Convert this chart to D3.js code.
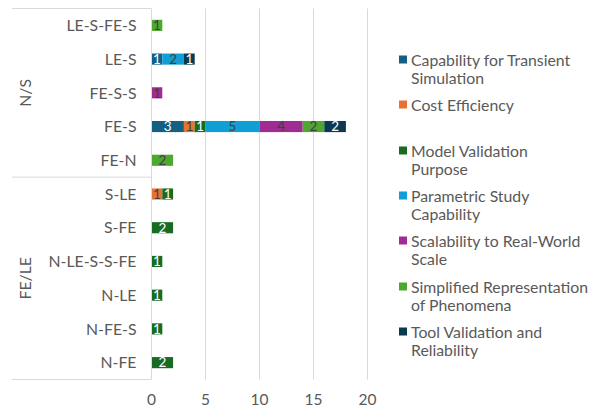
<!DOCTYPE html>
<html lang="en">
<head>
    <meta charset="UTF-8">
    <title>Stacked Bar</title>
    <script src="https://d3js.org/d3.v7.min.js"></script>
    <style>
        body { margin: 0; background: #fff; }
        text { font-family: Lato, "Open Sans", sans-serif; fill: #595959; }
    </style>
</head>
<body>
    <svg width="595" height="409"></svg>
    <script>
        // categories (top to bottom) and their groups
        var categories = ["LE-S-FE-S", "LE-S", "FE-S-S", "FE-S", "FE-N",
                          "S-LE", "S-FE", "N-LE-S-S-FE", "N-LE", "N-FE-S", "N-FE"];
        var groups = [
            {name: "N/S", from: "LE-S-FE-S", to: "FE-N"},
            {name: "FE/LE", from: "S-LE", to: "N-FE"}
        ];
        var seriesNames = ["Capability for Transient Simulation", "Cost Efficiency",
                           "Model Validation Purpose", "Parametric Study Capability",
                           "Scalability to Real-World Scale", "Simplified Representation of Phenomena",
                           "Tool Validation and Reliability"];
        var seriesColors = ["#156082", "#e97132", "#196b24", "#0f9ed5", "#a02b93", "#4ea72e", "#0a3a52"];
        var labelColors = ["#ffffff", "#404040", "#ffffff", "#404040", "#404040", "#404040", "#ffffff"];
        var legendLines = [["Capability for Transient", "Simulation"], ["Cost Efficiency"],
                           ["Model Validation", "Purpose"], ["Parametric Study", "Capability"],
                           ["Scalability to Real-World", "Scale"], ["Simplified Representation", "of Phenomena"],
                           ["Tool Validation and", "Reliability"]];

        // values per series, in category order
        var capability  = [0, 1, 0, 3, 0, 0, 0, 0, 0, 0, 0];
        var cost        = [0, 0, 0, 1, 0, 1, 0, 0, 0, 0, 0];
        var modelValid  = [0, 0, 0, 1, 0, 1, 2, 1, 1, 1, 2];
        var parametric  = [0, 2, 0, 5, 0, 0, 0, 0, 0, 0, 0];
        var scalability = [0, 0, 1, 4, 0, 0, 0, 0, 0, 0, 0];
        var simplified  = [1, 0, 0, 2, 2, 0, 0, 0, 0, 0, 0];
        var toolValid   = [0, 1, 0, 2, 0, 0, 0, 0, 0, 0, 0];
        var seriesValues = [capability, cost, modelValid, parametric, scalability, simplified, toolValid];
        var xTicks = [0, 5, 10, 15, 20];

        var svg = d3.select("svg");
        var margin = {top: 8.5, left: 151.5};

        var x = d3.scaleLinear().domain([0, 20]).range([0, 216]);
        var y = d3.scaleBand().domain(categories).range([0, 371]).paddingInner(0.67).paddingOuter(0.335);

        var g = svg.append("g").attr("transform", "translate(" + margin.left + "," + margin.top + ")");

        // gridlines
        g.selectAll(".grid").data(xTicks.slice(1)).enter().append("line")
            .attr("x1", function (d) { return x(d); })
            .attr("x2", function (d) { return x(d); })
            .attr("y1", 0).attr("y2", 371)
            .attr("stroke", "#d9d9d9").attr("stroke-width", 1);

        // build stack table
        var table = categories.map(function (c, i) {
            var row = {cat: c};
            seriesNames.forEach(function (s, j) { row[s] = seriesValues[j][i]; });
            return row;
        });
        var stacked = d3.stack().keys(seriesNames)(table);

        var layers = g.selectAll(".layer").data(stacked).enter().append("g")
            .attr("fill", function (d, i) { return seriesColors[i]; });

        layers.selectAll("rect").data(function (d) { return d.filter(function (p) { return p[1] > p[0]; }); })
            .enter().append("rect")
            .attr("x", function (d) { return x(d[0]); })
            .attr("y", function (d) { return y(d.data.cat); })
            .attr("width", function (d) { return x(d[1]) - x(d[0]); })
            .attr("height", y.bandwidth());

        layers.each(function (layer, i) {
            d3.select(this).selectAll("text.lbl")
                .data(layer.filter(function (p) { return p[1] > p[0]; }))
                .enter().append("text")
                .attr("class", "lbl")
                .attr("x", function (d) { return (x(d[0]) + x(d[1])) / 2; })
                .attr("y", function (d) { return y(d.data.cat) + y.bandwidth() / 2; })
                .attr("dy", "0.36em")
                .attr("text-anchor", "middle")
                .style("font-size", "13.5px")
                .style("fill", labelColors[i])
                .text(function (d) { return d[1] - d[0]; });
        });

        // x axis labels
        g.selectAll(".xt").data(xTicks).enter().append("text")
            .attr("x", function (d) { return x(d); })
            .attr("y", 396)
            .attr("text-anchor", "middle")
            .style("font-size", "15.5px")
            .text(function (d) { return d; });

        // category labels
        g.selectAll(".cat").data(categories).enter().append("text")
            .attr("x", -15)
            .attr("y", function (d) { return y(d) + y.bandwidth() / 2; })
            .attr("dy", "0.36em")
            .attr("text-anchor", "end")
            .style("font-size", "15.8px")
            .text(function (d) { return d; });

        // axis frame + group dividers
        var step = y.step();
        var lineCol = "#d9d9d9";
        g.append("line").attr("x1", 0).attr("x2", 0).attr("y1", 0).attr("y2", 371)
            .attr("stroke", lineCol);
        var edges = [0, y(groups[0].to) + y.bandwidth() / 2 + step / 2, 371];
        edges.forEach(function (e) {
            g.append("line").attr("x1", -139.5).attr("x2", 0).attr("y1", e).attr("y2", e)
                .attr("stroke", lineCol);
        });
        groups.forEach(function (gr) {
            var cy = (y(gr.from) + y(gr.to) + y.bandwidth()) / 2;
            g.append("text")
                .attr("transform", "translate(" + (-120.5) + "," + cy + ") rotate(-90)")
                .attr("text-anchor", "middle")
                .style("font-size", "15.8px")
                .text(gr.name);
        });

        // legend
        var legend = svg.append("g").attr("transform", "translate(399,0)");
        var legendY = [60, 105, 151, 196, 241, 287, 332];
        seriesNames.forEach(function (s, i) {
            var item = legend.append("g").attr("transform", "translate(0," + legendY[i] + ")");
            item.append("rect").attr("x", 0).attr("y", -4.5).attr("width", 8).attr("height", 8)
                .attr("fill", seriesColors[i]);
            legendLines[i].forEach(function (t, k) {
                item.append("text").attr("x", 12).attr("y", k * 18.5).attr("dy", "0.36em")
                    .style("font-size", "15.8px").text(t);
            });
        });
    </script>
</body>
</html>
